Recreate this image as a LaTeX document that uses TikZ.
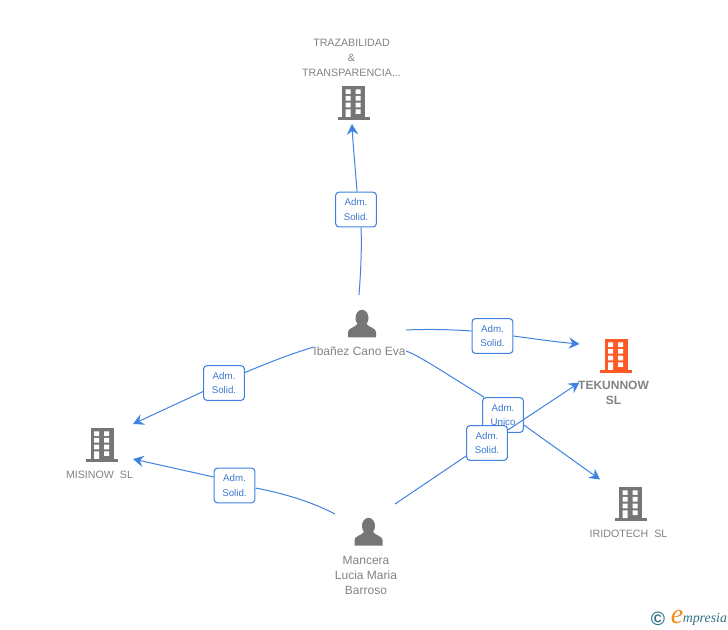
\documentclass[tikz,border=0pt]{standalone}
\usepackage{fontspec}
\setmainfont{Liberation Sans}
\newfontfamily\logofont{Liberation Serif}
\usetikzlibrary{arrows.meta}
\definecolor{linkblue}{HTML}{3F82E0}
\definecolor{boxtext}{HTML}{3B78D0}
\definecolor{icongray}{HTML}{767676}
\definecolor{labelgray}{HTML}{828282}
\definecolor{accentorange}{HTML}{FF5A26}
\definecolor{logoteal}{HTML}{2F7285}
\definecolor{logoorange}{HTML}{F08A1D}
\tikzset{
  x=0.75pt,y=-0.75pt,
  link/.style={draw=linkblue,line width=0.75pt},
  arrowlink/.style={link,-{Stealth[length=8pt,width=8.5pt,inset=2.8pt]}},
  relbox/.style={draw=linkblue,line width=0.8pt,fill=white,rounded corners=2.4pt,minimum width=30.5pt,minimum height=26pt,inner sep=0pt,align=center,text=boxtext,font=\fontsize{7.3}{11.2}\selectfont},
  entitytext/.style={text=labelgray,align=center,inner sep=0pt,font=\fontsize{8}{11.25}\selectfont},
  persontext/.style={entitytext,font=\fontsize{9}{11.25}\selectfont},
  pics/building/.style={code={
    \fill[#1] (-11.5,-17) rectangle (11.5,14);
    \fill[#1] (-16,14) rectangle (16,17);
    \fill[white]
      (-8,-13.7) rectangle (-3,-9) (2,-13.7) rectangle (7,-9)
      (-8,-7) rectangle (-3,-2.3) (2,-7) rectangle (7,-2.3)
      (-8,-0.3) rectangle (-3,4.3) (2,-0.3) rectangle (7,4.3)
      (-8,6.3) rectangle (-3,14) (2,6.3) rectangle (7,11);
  }},
  pics/person/.style={code={
    \fill[icongray] (0,-6) ellipse (6.5 and 8.2);
    \fill[icongray] (-14,13.5) -- (-14,8) .. controls (-14,4) and (-7,3.5) .. (-4.5,0)
      -- (4.5,0) .. controls (7,3.5) and (14,4) .. (14,8) -- (14,13.5) -- cycle;
  }}
}
\begin{document}
\begin{tikzpicture}
\useasboundingbox (0,0) rectangle (728,630);
% entities
\pic at (353.5,103) {building=icongray};
\pic at (616,356) {building=accentorange};
\pic at (102,445) {building=icongray};
\pic at (630.5,504) {building=icongray};
\pic at (362,324) {person};
\pic at (368.5,532) {person};
\node[entitytext] (traz) at (351.5,57.6) {TRAZABILIDAD\\\&\\TRANSPARENCIA...};
\node[entitytext,font=\fontsize{9}{11.25}\selectfont\bfseries] (tek) at (613.5,393) {TEKUNNOW\\SL};
\node[entitytext] (mis) at (99.5,474.6) {MISINOW\ \ SL};
\node[entitytext] (iri) at (628.5,533.6) {IRIDOTECH\ \ SL};
\node[persontext] (iba) at (359.5,351.6) {Ibañez Cano Eva};
\node[persontext] (man) at (366,575.6) {Mancera\\Lucia Maria\\Barroso};
% connector free ends
\coordinate (ibaN) at (359,295);
\coordinate (ibaE) at (406,330);
\coordinate (ibaW) at (314,347);
\coordinate (ibaS) at (406,351);
\coordinate (manE) at (395,504);
\coordinate (manW) at (335,514);
\coordinate (trazIn) at (352,124);
\coordinate (tekIn) at (579.5,344);
\coordinate (tekInB) at (579.5,382.5);
\coordinate (misIn) at (133,424);
\coordinate (misInB) at (133,459);
\coordinate (iriIn) at (600,479.5);
% label boxes
\node[relbox] (b1) at (356,209.5) {Adm.\\Solid.};
\node[relbox] (b2) at (492.5,336) {Adm.\\Solid.};
\node[relbox] (b3) at (224,383) {Adm.\\Solid.};
\node[relbox] (b5) at (234.5,485.5) {Adm.\\Solid.};
% connectors
\draw[link] (ibaN) .. controls (360.5,275) and (362,250) .. (b1.south-|361,0);
\draw[arrowlink] (b1.north-|357,0) .. controls (355.5,170) and (353,145) .. (trazIn);
\draw[link] (ibaE) .. controls (428,329) and (450,329.5) .. (b2.west|-0,331);
\draw[arrowlink] (b2.east) .. controls (535,339) and (557,342) .. (tekIn);
\draw[link] (ibaW) .. controls (290,354) and (268,363) .. (b3.east|-0,372.5);
\draw[arrowlink] (b3.west|-0,391.5) -- (misIn);
\draw[link] (manW) .. controls (310,501) and (282,493) .. (b5.east|-0,488);
\draw[arrowlink] (b5.west|-0,477) -- (misInB);
\node[relbox] (b4) at (503,415) {Adm.\\Unico};
\draw[link] (ibaS) .. controls (420,356) and (448,375) .. (b4.north-|484,0);
\draw[arrowlink] (b4.east|-0,425) -- (iriIn);
\node[relbox] (b6) at (487,443) {Adm.\\Solid.};
\draw[link] (manE) -- (b6.west|-0,456);
\draw[arrowlink] (b6.east|-0,430) -- (tekInB);
% logo
\node[text=logoteal,inner sep=0pt,font=\bfseries\fontsize{14.5}{15}\selectfont] (copy) at (658,619) {©};
\node[text=logoorange,inner sep=0pt,font=\logofont\itshape\fontsize{21}{21}\selectfont] (loge) at (677,617) {e};
\node[text=logoteal,anchor=west,inner sep=0pt,font=\logofont\itshape\fontsize{10.4}{10}\selectfont] (logt) at (682.5,619.5) {mpresia};
\end{tikzpicture}
\end{document}
